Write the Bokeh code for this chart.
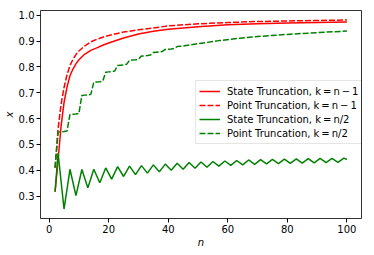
from bokeh.plotting import figure
from bokeh.embed import file_html
from bokeh.resources import INLINE
from bokeh.models import Range1d, FixedTicker, PrintfTickFormatter

# ---- data ----
n_full = [2, 3, 4, 5, 6, 7, 8, 9, 10, 12, 14, 16, 18, 20, 25, 30, 35, 40, 50, 60, 70, 80, 90, 100]
state_full = [0.317, 0.44, 0.57, 0.662, 0.722, 0.766, 0.792, 0.812, 0.828, 0.850, 0.864, 0.874,
              0.884, 0.893, 0.912, 0.928, 0.938, 0.946, 0.956, 0.963, 0.967, 0.970, 0.972, 0.974]
point_full = [0.41, 0.56, 0.655, 0.72, 0.77, 0.805, 0.83, 0.848, 0.862, 0.882, 0.897, 0.907,
              0.915, 0.922, 0.935, 0.944, 0.951, 0.959, 0.967, 0.972, 0.976, 0.978, 0.980, 0.982]

n_state_half = [2] + list(range(3, 100, 2)) + [100]
state_half = [0.317, 0.467, 0.250, 0.404, 0.302, 0.403, 0.332, 0.404, 0.352, 0.409,
              0.366, 0.414, 0.376, 0.416, 0.383, 0.418, 0.389, 0.421, 0.394, 0.424,
              0.400, 0.427, 0.404, 0.430, 0.408, 0.432, 0.412, 0.434, 0.416, 0.436,
              0.419, 0.438, 0.421, 0.440, 0.423, 0.441, 0.425, 0.442, 0.426, 0.443,
              0.427, 0.444, 0.428, 0.445, 0.429, 0.446, 0.430, 0.446, 0.431, 0.447,
              0.442]

n_point_half = list(range(2, 47)) + [50, 57, 64, 70, 80, 90, 100]
point_half = [0.410,
              0.548, 0.549, 0.550, 0.552,
              0.616, 0.617, 0.618, 0.620,
              0.690, 0.691, 0.692, 0.694,
              0.741, 0.742, 0.743, 0.745,
              0.780, 0.781, 0.782, 0.784,
              0.806, 0.807, 0.808, 0.810,
              0.826, 0.827, 0.828, 0.830,
              0.842, 0.843, 0.844, 0.846,
              0.856, 0.857, 0.858, 0.860,
              0.868, 0.869, 0.870, 0.872,
              0.879, 0.880, 0.881, 0.883,
              0.890, 0.902, 0.911, 0.918, 0.926, 0.933, 0.939]

x_ticks = [0, 20, 40, 60, 80, 100]
y_ticks = [0.3, 0.4, 0.5, 0.6, 0.7, 0.8, 0.9, 1.0]

TS = "\u2009"
labels = ["State Truncation, k" + TS + "=" + TS + "n" + TS + "\u2212" + TS + "1",
          "Point Truncation, k" + TS + "=" + TS + "n" + TS + "\u2212" + TS + "1",
          "State Truncation, k" + TS + "=" + TS + "n/2",
          "Point Truncation, k" + TS + "=" + TS + "n/2"]

RED = "#ff0000"
GREEN = "#008000"
FONT = "DejaVu Sans"

p = figure(frame_width=321, frame_height=208, output_backend="svg", toolbar_location=None,
           x_range=Range1d(-2.9, 104.9), y_range=Range1d(0.2134, 1.0186),
           min_border_left=34, min_border_right=3, min_border_top=10, min_border_bottom=27)

p.line(n_full, state_full, line_color=RED, line_width=1.5, legend_label=labels[0])
p.line(n_full, point_full, line_color=RED, line_width=1.5, line_dash="6 2", legend_label=labels[1])
p.line(n_state_half, state_half, line_color=GREEN, line_width=1.5, legend_label=labels[2])
p.line(n_point_half, point_half, line_color=GREEN, line_width=1.5, line_dash="6 2", legend_label=labels[3])

p.grid.visible = False
p.outline_line_color = "black"
p.outline_line_width = 1
p.outline_line_alpha = 0.8
p.background_fill_color = "white"
p.border_fill_color = "white"

for ax in (p.xaxis[0], p.yaxis[0]):
    ax.axis_line_color = None
    ax.major_tick_in = 0
    ax.major_tick_out = 4
    ax.major_tick_line_color = "black"
    ax.minor_tick_line_color = None
    ax.major_label_text_font = FONT
    ax.major_label_text_font_size = "10px"
    ax.major_label_text_color = "black"
    ax.axis_label_text_font = FONT
    ax.axis_label_text_font_size = "10px"
    ax.axis_label_text_font_style = "italic"
    ax.axis_label_text_color = "black"
    ax.axis_label_standoff = 1
    ax.major_label_standoff = 2

p.xaxis.ticker = FixedTicker(ticks=x_ticks)
p.yaxis.ticker = FixedTicker(ticks=y_ticks)
p.yaxis.formatter = PrintfTickFormatter(format="%.1f")
p.xaxis.axis_label = "n"
p.yaxis.axis_label = "x"

lg = p.legend[0]
lg.location = (155, 74)
lg.padding = 3
lg.spacing = 0
lg.margin = 0
lg.glyph_width = 21
lg.glyph_height = 14
lg.label_height = 14
lg.label_standoff = 7
lg.label_text_font = FONT
lg.label_text_font_size = "10px"
lg.label_text_color = "black"
lg.border_line_color = "#cccccc"
lg.border_line_width = 1
lg.background_fill_alpha = 0.8

open("out.html", "w").write(file_html(p, INLINE))
